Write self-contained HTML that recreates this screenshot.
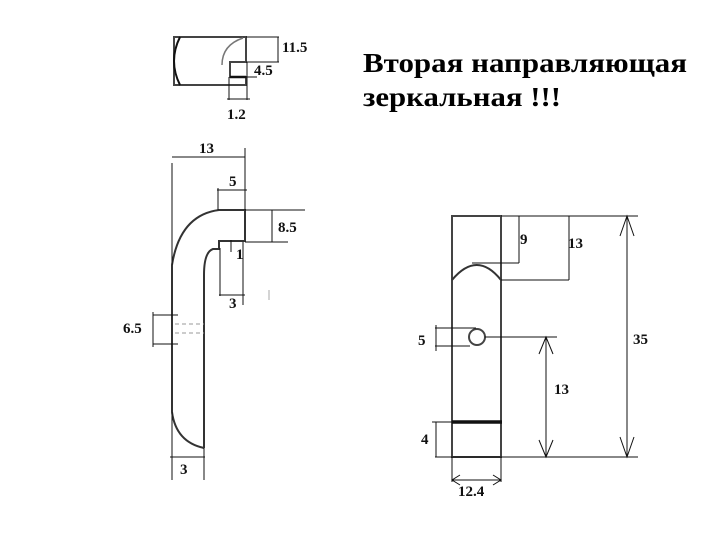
<!DOCTYPE html>
<html><head><meta charset="utf-8"><style>
html,body{margin:0;padding:0;background:#fff}
svg{display:block}
.t{font-family:"Liberation Serif",serif;font-weight:bold;font-size:15px;fill:#111}
.h{font-family:"Liberation Serif",serif;font-weight:bold;font-size:27px;fill:#000}
</style></head><body>
<svg width="707" height="552" viewBox="0 0 707 552" xmlns="http://www.w3.org/2000/svg">
<g fill="none" stroke="#111" stroke-width="1">
<path d="M174 37 H246 V62 H230 V77 H246 V85 H174 Z" stroke="#444" stroke-width="2"/>
<path d="M180 37 Q168 61 180 85" stroke-width="2"/>
<path d="M243 38 Q222 45 222 65" stroke="#777" stroke-width="1.5"/>
<line x1="230" y1="77" x2="246" y2="77" stroke-width="2.5"/>
<line x1="246" y1="37" x2="279" y2="37"/>
<line x1="278" y1="37" x2="278" y2="62"/>
<line x1="246" y1="62" x2="279" y2="62"/>
<line x1="246" y1="77" x2="257" y2="77"/>
<line x1="247" y1="62" x2="247" y2="100"/>
<line x1="229" y1="77" x2="229" y2="100"/>
<line x1="227" y1="99" x2="250" y2="99"/>
<path d="M172 265 V412" stroke="#333" stroke-width="2"/>
<path d="M172 265 Q180 215 219 210 H245 V241 H219 V249 H213 Q204 252 204 275 V448" stroke="#333" stroke-width="2"/>
<path d="M172 412 Q176 442 204 448" stroke="#333" stroke-width="2"/>
<line x1="172" y1="163" x2="172" y2="265"/>
<line x1="172" y1="412" x2="172" y2="480"/>
<line x1="172" y1="157" x2="245" y2="157"/>
<line x1="245" y1="148" x2="245" y2="210"/>
<line x1="217" y1="190" x2="247" y2="190"/>
<line x1="218" y1="188" x2="218" y2="210"/>
<line x1="245" y1="210" x2="305" y2="210"/>
<line x1="245" y1="242" x2="288" y2="242"/>
<line x1="272" y1="210" x2="272" y2="242"/>
<line x1="231" y1="240" x2="231" y2="252"/>
<line x1="220" y1="248" x2="220" y2="296"/>
<line x1="243" y1="242" x2="243" y2="305"/>
<line x1="219" y1="295" x2="245" y2="295"/>
<line x1="269" y1="290" x2="269" y2="300" stroke="#aaa"/>
<line x1="153" y1="315" x2="178" y2="315"/>
<line x1="153" y1="344" x2="178" y2="344"/>
<line x1="153" y1="312" x2="153" y2="347"/>
<line x1="175" y1="324" x2="204" y2="324" stroke="#999" stroke-dasharray="4,3"/>
<line x1="175" y1="333" x2="204" y2="333" stroke="#999" stroke-dasharray="4,3"/>
<line x1="204" y1="448" x2="204" y2="480"/>
<line x1="170" y1="457" x2="205" y2="457"/>
<rect x="452" y="216" width="49" height="241" stroke="#444" stroke-width="2"/>
<path d="M452 280 Q477 250 501 280" stroke="#333" stroke-width="2"/>
<circle cx="477" cy="337" r="8" stroke="#444" stroke-width="2"/>
<line x1="452" y1="422" x2="502" y2="422" stroke-width="3.5"/>
<line x1="501" y1="216" x2="638" y2="216"/>
<line x1="519" y1="216" x2="519" y2="263"/>
<line x1="472" y1="263" x2="519" y2="263"/>
<line x1="569" y1="216" x2="569" y2="280"/>
<line x1="501" y1="280" x2="569" y2="280"/>
<line x1="627" y1="216" x2="627" y2="457"/>
<path d="M620 236 L627 216 L634 236 M620 437 L627 457 L634 437"/>
<line x1="435" y1="457" x2="638" y2="457"/>
<line x1="485" y1="337" x2="557" y2="337"/>
<line x1="546" y1="337" x2="546" y2="457"/>
<path d="M539 354 L546 337 L553 354 M539 440 L546 457 L553 440"/>
<line x1="435" y1="328" x2="476" y2="328"/>
<line x1="435" y1="346" x2="470" y2="346"/>
<line x1="436" y1="325" x2="436" y2="351"/>
<line x1="432" y1="422" x2="452" y2="422"/>
<line x1="436" y1="422" x2="436" y2="457"/>
<line x1="452" y1="457" x2="452" y2="482"/>
<line x1="501" y1="457" x2="501" y2="482"/>
<line x1="452" y1="480" x2="501" y2="480"/>
<path d="M460 475 L452 480 L460 485 M493 475 L501 480 L493 485"/>
</g>
<text class="t" x="282" y="52">11.5</text>
<text class="t" x="254" y="75">4.5</text>
<text class="t" x="227" y="119">1.2</text>
<text class="t" x="199" y="153">13</text>
<text class="t" x="229" y="186">5</text>
<text class="t" x="278" y="232">8.5</text>
<text class="t" x="236" y="259">1</text>
<text class="t" x="229" y="308">3</text>
<text class="t" x="123" y="333">6.5</text>
<text class="t" x="180" y="474">3</text>
<text class="t" x="520" y="244">9</text>
<text class="t" x="568" y="248">13</text>
<text class="t" x="633" y="344">35</text>
<text class="t" x="554" y="394">13</text>
<text class="t" x="418" y="345">5</text>
<text class="t" x="421" y="444">4</text>
<text class="t" x="458" y="496">12.4</text>
<text class="h" x="363" y="72" textLength="324" lengthAdjust="spacingAndGlyphs">Вторая направляющая</text>
<text class="h" x="363" y="106" textLength="198" lengthAdjust="spacingAndGlyphs">зеркальная !!!</text>
</svg>
</body></html>
